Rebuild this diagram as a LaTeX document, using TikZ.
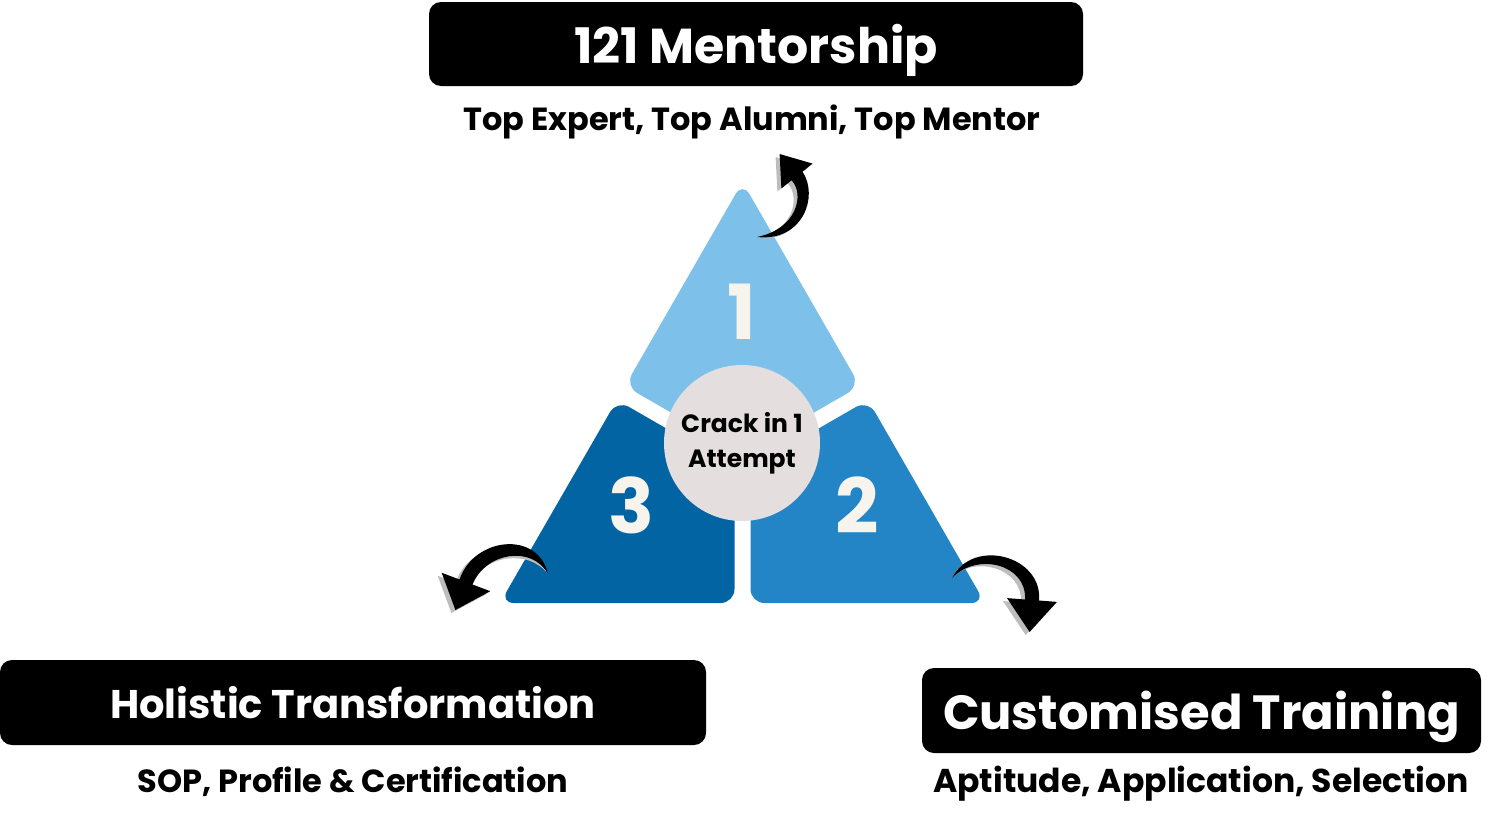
\documentclass[tikz,border=0pt]{standalone}
\usepackage{fontspec}
\setmainfont{Poppins}
\definecolor{pieceA}{HTML}{7DC1EA}
\definecolor{pieceB}{HTML}{2385C6}
\definecolor{pieceC}{HTML}{0364A3}
\definecolor{coreC}{HTML}{E4DEDF}
\definecolor{numC}{HTML}{F7F4EE}
\definecolor{shadowC}{HTML}{BDBDBD}
\begin{document}
\begin{tikzpicture}[x=0.5pt,y=-0.5pt,
  titlebox/.style={fill=black, rounded corners=6pt, text=white, inner sep=0pt, text depth=0pt},
  subtext/.style={text=black, inner sep=0pt},
  numtext/.style={text=numC, font=\bfseries\fontsize{38}{40}\selectfont, inner sep=0pt},
  piece/.style={rounded corners=7pt},
  arrowbody/.style={fill=black},
  arrowshadow/.style={fill=shadowC}]
\useasboundingbox (0,0) rectangle (1500,819);

% triangle pieces
\fill[piece, pieceA] (742.5,182) -- (860,386) -- (742.5,453.8) -- (625,386) -- cycle;
\fill[piece, pieceC] (617,400) -- (734.5,467.8) -- (734.5,603) -- (500,603) -- cycle;
\fill[piece, pieceB] (868,400) -- (985,603) -- (750.5,603) -- (750.5,467.8) -- cycle;

\node[circle, fill=coreC, minimum size=78pt, inner sep=0pt, align=center,
      font=\bfseries\fontsize{12.5}{17.5}\selectfont] (core) at (742,443) {Crack in 1\\Attempt};

\node[numtext] (n1) at (742,312) {1};
\node[numtext] (n2) at (857,505) {2};
\node[numtext] (n3) at (631,505) {3};

% title boxes
\node[titlebox, minimum width=327pt, minimum height=42pt, font=\bfseries\fontsize{24.5}{28}\selectfont] (mentor) at (756,44) {121 Mentorship};
\node[subtext, font=\bfseries\fontsize{16}{19}\selectfont] (mentorsub) at (752,122) {Top Expert, Top Alumni, Top Mentor};

\node[titlebox, minimum width=353pt, minimum height=42.5pt, font=\bfseries\fontsize{20}{24}\selectfont] (holistic) at (353,702.5) {Holistic Transformation};
\node[subtext, font=\bfseries\fontsize{16}{19}\selectfont] (holisticsub) at (353,782) {SOP, Profile \& Certification};

\node[titlebox, minimum width=279.5pt, minimum height=42.5pt, font=\bfseries\fontsize{24}{28}\selectfont] (custom) at (1201.5,710.5) {Customised Training};
\node[subtext, font=\bfseries\fontsize{16.5}{19}\selectfont] (customsub) at (1201,784) {Aptitude, Application, Selection};

% arrow anchor coordinates
\coordinate (topT) at (757,237);
\coordinate (leftT) at (548,574);
\coordinate (rightT) at (952,578);

% shadows
\begin{scope}[shift={(-4,3)}]
\fill[arrowshadow] (topT) .. controls (803,242) and (819,196) .. (802.5,171.7) -- (812.6,163.6) -- (779.6,154) -- (781.4,188.4) -- (791.5,180.3) .. controls (805,194) and (797,229) .. (topT) -- cycle;
\fill[arrowshadow] (leftT) .. controls (538,530) and (474,537) .. (459.5,579.5) -- (441.7,572.8) -- (455.4,610) -- (490.3,591.2) -- (472.5,584.5) .. controls (486,552) and (532,545) .. (leftT) -- cycle;
\fill[arrowshadow] (rightT) .. controls (973,537) and (1043,556) .. (1039,600.5) -- (1057,601.9) -- (1029.6,632) -- (1007,598.1) -- (1025,599.5) .. controls (1027,564) and (977,552) .. (rightT) -- cycle;
\end{scope}
% arrows
\fill[arrowbody] (topT) .. controls (803,242) and (819,196) .. (802.5,171.7) -- (812.6,163.6) -- (779.6,154) -- (781.4,188.4) -- (791.5,180.3) .. controls (805,194) and (797,229) .. (topT) -- cycle;
\fill[arrowbody] (leftT) .. controls (538,530) and (474,537) .. (459.5,579.5) -- (441.7,572.8) -- (455.4,610) -- (490.3,591.2) -- (472.5,584.5) .. controls (486,552) and (532,545) .. (leftT) -- cycle;
\fill[arrowbody] (rightT) .. controls (973,537) and (1043,556) .. (1039,600.5) -- (1057,601.9) -- (1029.6,632) -- (1007,598.1) -- (1025,599.5) .. controls (1027,564) and (977,552) .. (rightT) -- cycle;
\end{tikzpicture}
\end{document}
